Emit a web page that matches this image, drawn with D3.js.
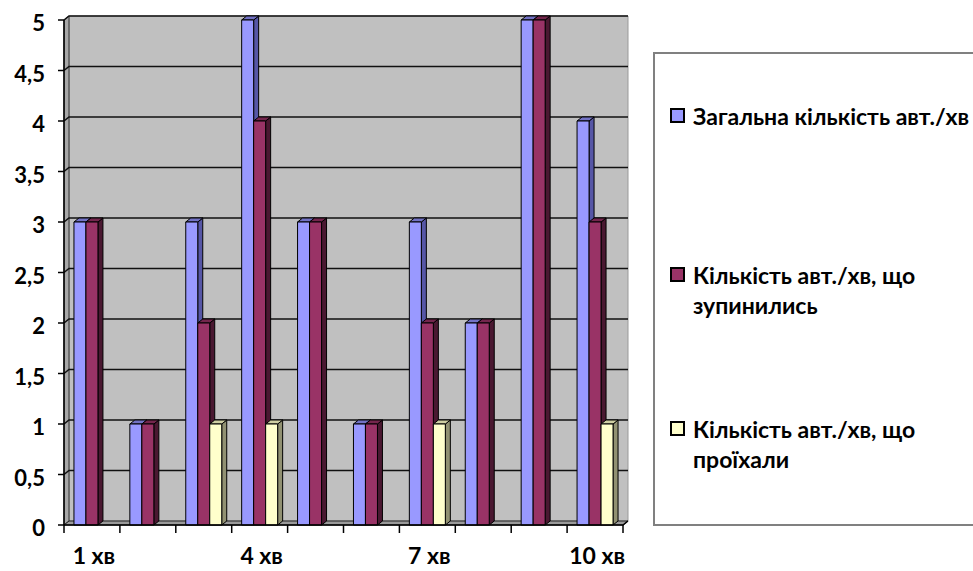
<!DOCTYPE html>
<html>
<head>
<meta charset="utf-8">
<script src="https://cdn.jsdelivr.net/npm/d3@7"></script>
<style>
    body { margin: 0; background: #fff; }
    svg text { font-family: Lato, "Open Sans", sans-serif; font-weight: bold; fill: #000; }
</style>
</head>
<body>
<div id="chart"></div>
<script>
// data
var categories = ['1 хв', '2 хв', '3 хв', '4 хв', '5 хв', '6 хв', '7 хв', '8 хв', '9 хв', '10 хв'];
var shownLabels = ['1 хв', '4 хв', '7 хв', '10 хв'];
var seriesNames = [
    'Загальна кількість авт./хв',
    'Кількість авт./хв, що зупинились',
    'Кількість авт./хв, що проїхали'
];
var totalCars = [3, 1, 3, 5, 3, 1, 3, 2, 5, 4];
var stoppedCars = [3, 1, 2, 4, 3, 1, 2, 2, 5, 3];
var passedCars = [0, 0, 1, 1, 0, 0, 1, 0, 0, 1];
var yTicks = [0, 0.5, 1, 1.5, 2, 2.5, 3, 3.5, 4, 4.5, 5];
var legendLines = [
    ['Загальна кількість авт./хв'],
    ['Кількість авт./хв, що', 'зупинились'],
    ['Кількість авт./хв, що', 'проїхали']
];

var seriesValues = [totalCars, stoppedCars, passedCars];
// front, top, side shades
var palette = [
    {front: '#9999ff', top: '#7272c4', side: '#5656a6'},
    {front: '#993366', top: '#74264d', side: '#4a1831'},
    {front: '#ffffcc', top: '#cfcfa3', side: '#919172'}
];

var width = 973, height = 571;
var plot = {left: 64, right: 623, top: 20, bottom: 525};
var depth = {dx: 5, dy: 4};

var svg = d3.select('#chart').append('svg')
    .attr('width', width)
    .attr('height', height);

var x = d3.scaleBand()
    .domain(categories)
    .range([plot.left, plot.right])
    .paddingInner(0)
    .paddingOuter(0);

var xSub = d3.scaleBand()
    .domain(d3.range(seriesNames.length))
    .range([0, x.bandwidth()])
    .paddingInner(0)
    .paddingOuter(0.83);

var y = d3.scaleLinear()
    .domain([0, 5])
    .range([plot.bottom, plot.top]);

function poly(points) {
    return 'M' + points.map(function (p) { return p.join(','); }).join('L') + 'Z';
}

// walls
var walls = svg.append('g');
walls.append('path') // back wall
    .attr('d', poly([
        [plot.left + depth.dx, plot.top - depth.dy],
        [plot.right + depth.dx, plot.top - depth.dy],
        [plot.right + depth.dx, plot.bottom - depth.dy],
        [plot.left + depth.dx, plot.bottom - depth.dy]
    ]))
    .attr('fill', '#c0c0c0')
    .attr('stroke', '#9a9a9a')
    .attr('stroke-width', 1);
walls.append('path') // side wall
    .attr('d', poly([
        [plot.left, plot.top],
        [plot.left + depth.dx, plot.top - depth.dy],
        [plot.left + depth.dx, plot.bottom - depth.dy],
        [plot.left, plot.bottom]
    ]))
    .attr('fill', '#a8a8a8')
    .attr('stroke', '#333')
    .attr('stroke-width', 1);
walls.append('path') // floor
    .attr('d', poly([
        [plot.left, plot.bottom],
        [plot.left + depth.dx, plot.bottom - depth.dy],
        [plot.right + depth.dx, plot.bottom - depth.dy],
        [plot.right, plot.bottom]
    ]))
    .attr('fill', '#9a9a9a')
    .attr('stroke', '#222')
    .attr('stroke-width', 1);

// gridlines on the back wall and the side wall
var grid = svg.append('g')
    .attr('stroke', '#111')
    .attr('stroke-width', 1.6)
    .attr('fill', 'none');
yTicks.filter(function (t) { return t > 0; }).forEach(function (t) {
    grid.append('path')
        .attr('d', 'M' + plot.left + ',' + y(t) +
            'L' + (plot.left + depth.dx) + ',' + (y(t) - depth.dy) +
            'L' + (plot.right + depth.dx) + ',' + (y(t) - depth.dy));
});

// bars
var bars = svg.append('g');
categories.forEach(function (cat, ci) {
    seriesValues.forEach(function (vals, si) {
        var v = vals[ci];
        if (!v) { return; }
        var x0 = x(cat) + xSub(si),
            x1 = x0 + xSub.bandwidth(),
            yt = y(v),
            yb = y(0),
            c = palette[si],
            g = bars.append('g')
                .attr('stroke', '#000')
                .attr('stroke-width', 1)
                .attr('stroke-linejoin', 'round');
        g.append('path')
            .attr('d', poly([[x1, yt], [x1 + depth.dx, yt - depth.dy], [x1 + depth.dx, yb - depth.dy], [x1, yb]]))
            .attr('fill', c.side);
        g.append('path')
            .attr('d', poly([[x0, yt], [x0 + depth.dx, yt - depth.dy], [x1 + depth.dx, yt - depth.dy], [x1, yt]]))
            .attr('fill', c.top);
        g.append('rect')
            .attr('x', x0)
            .attr('y', yt)
            .attr('width', x1 - x0)
            .attr('height', yb - yt)
            .attr('fill', c.front);
    });
});

// y axis
var yAxis = svg.append('g');
yAxis.append('line')
    .attr('x1', plot.left).attr('x2', plot.left)
    .attr('y1', plot.top).attr('y2', plot.bottom)
    .attr('stroke', '#000').attr('stroke-width', 1.5);
yTicks.forEach(function (t) {
    yAxis.append('line')
        .attr('x1', plot.left - 6).attr('x2', plot.left)
        .attr('y1', y(t)).attr('y2', y(t))
        .attr('stroke', '#000').attr('stroke-width', 1.5);
    yAxis.append('text')
        .attr('x', 45)
        .attr('y', y(t) + 11)
        .attr('text-anchor', 'end')
        .style('font-size', '22px')
        .text(String(t).replace('.', ','));
});

// x axis
var xAxis = svg.append('g');
xAxis.append('path')
    .attr('d', 'M' + plot.left + ',' + plot.bottom + 'L' + plot.right + ',' + plot.bottom +
        'L' + (plot.right + depth.dx) + ',' + (plot.bottom - depth.dy))
    .attr('fill', 'none')
    .attr('stroke', '#000').attr('stroke-width', 1.5);
categories.concat([null]).forEach(function (cat) {
    var xp = cat === null ? plot.right : x(cat);
    xAxis.append('line')
        .attr('x1', xp).attr('x2', xp)
        .attr('y1', plot.bottom).attr('y2', plot.bottom + 8)
        .attr('stroke', '#000').attr('stroke-width', 1.5);
});
shownLabels.forEach(function (lab) {
    xAxis.append('text')
        .attr('x', x(lab) + x.bandwidth() / 2 + 2)
        .attr('y', 564)
        .attr('text-anchor', 'middle')
        .style('font-size', '23px')
        .text(lab);
});

// legend
var legend = svg.append('g');
legend.append('rect')
    .attr('x', 654).attr('y', 53)
    .attr('width', 400).attr('height', 472)
    .attr('fill', '#fff')
    .attr('stroke', '#808080')
    .attr('stroke-width', 2);
var legendTop = [109, 268, 422];
legendLines.forEach(function (lines, i) {
    legend.append('rect')
        .attr('x', 671).attr('y', legendTop[i])
        .attr('width', 13).attr('height', 13)
        .attr('fill', palette[i].front)
        .attr('stroke', '#000')
        .attr('stroke-width', 2);
    var t = legend.append('text')
        .attr('x', 693)
        .attr('y', legendTop[i] + 16)
        .style('font-size', '23px');
    lines.forEach(function (ln, li) {
        t.append('tspan')
            .attr('x', 693)
            .attr('dy', li === 0 ? 0 : 30)
            .text(ln);
    });
});
</script>
</body>
</html>
